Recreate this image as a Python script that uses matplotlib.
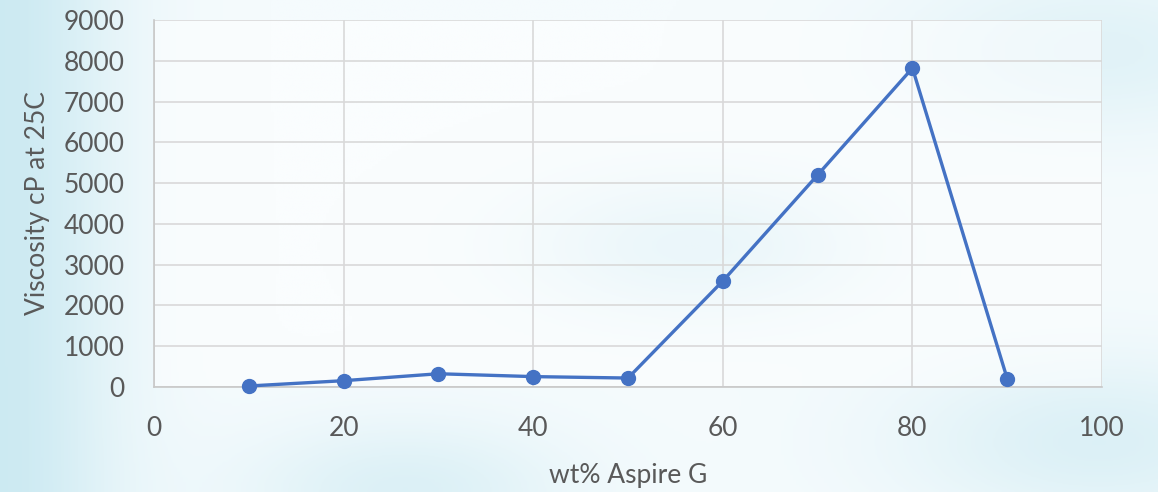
import numpy as np
import matplotlib
matplotlib.use("Agg")
import matplotlib.pyplot as plt
from matplotlib.colors import LinearSegmentedColormap

# data
wt_pct = [10, 20, 30, 40, 50, 60, 70, 80, 90]
viscosity = [25, 155, 325, 255, 220, 2600, 5200, 7820, 200]
x_ticks = [0, 20, 40, 60, 80, 100]
y_ticks = list(range(0, 9001, 1000))

plt.rcParams['font.family'] = ['Lato', 'DejaVu Sans']
grey = "#595959"

fig = plt.figure(figsize=(11.58, 4.92), dpi=100)

# pale watery background
bg = fig.add_axes([0, 0, 1, 1], zorder=-10)
yy, xx = np.mgrid[0:1:200j, 0:1:400j]
wash = (0.8 * np.exp(-((xx - 0.0) ** 2) / 0.01)
        + 0.6 * np.exp(-((xx - 0.6) ** 2 + (yy - 0.5) ** 2) / 0.02)
        + 0.5 * np.exp(-((xx - 0.95) ** 2 + (yy - 0.9) ** 2) / 0.03)
        + 0.5 * np.exp(-((xx - 0.35) ** 2 + (yy - 1.0) ** 2) / 0.02)
        + 0.4 * np.exp(-((xx - 0.95) ** 2 + (yy - 0.1) ** 2) / 0.03))
water = LinearSegmentedColormap.from_list("water", ["#f5fbfd", "#c8e8f1"])
bg.imshow(wash, cmap=water, vmin=0.0, vmax=0.9, aspect="auto",
          extent=[0, 1, 0, 1])
bg.axis("off")

ax = fig.add_axes([0.133, 0.2134, 0.8187, 0.746])
ax.patch.set_facecolor("white")
ax.patch.set_alpha(0.5)
ax.plot(wt_pct, viscosity, "-o", color="#4472C4", lw=2.4, ms=10, zorder=3,
        clip_on=False)

ax.set_xlim(0, 100)
ax.set_ylim(0, 9000)
ax.set_xticks(x_ticks)
ax.set_yticks(y_ticks)
ax.grid(True, color="#d9d9d9", lw=1.2)
ax.set_axisbelow(True)
for side in ["top", "right"]:
    ax.spines[side].set_visible(False)
for side in ["left", "bottom"]:
    ax.spines[side].set_color("#c8c8c8")
    ax.spines[side].set_linewidth(1.2)
ax.tick_params(length=0, labelsize=19, labelcolor=grey)
ax.tick_params(axis="x", pad=21)
ax.tick_params(axis="y", pad=21)
ax.set_xlabel("wt% Aspire G", fontsize=19, color=grey, labelpad=16)
ax.set_ylabel("Viscosity cP at 25C", fontsize=19, color=grey, labelpad=10)

fig.savefig("out.png", dpi=100)
